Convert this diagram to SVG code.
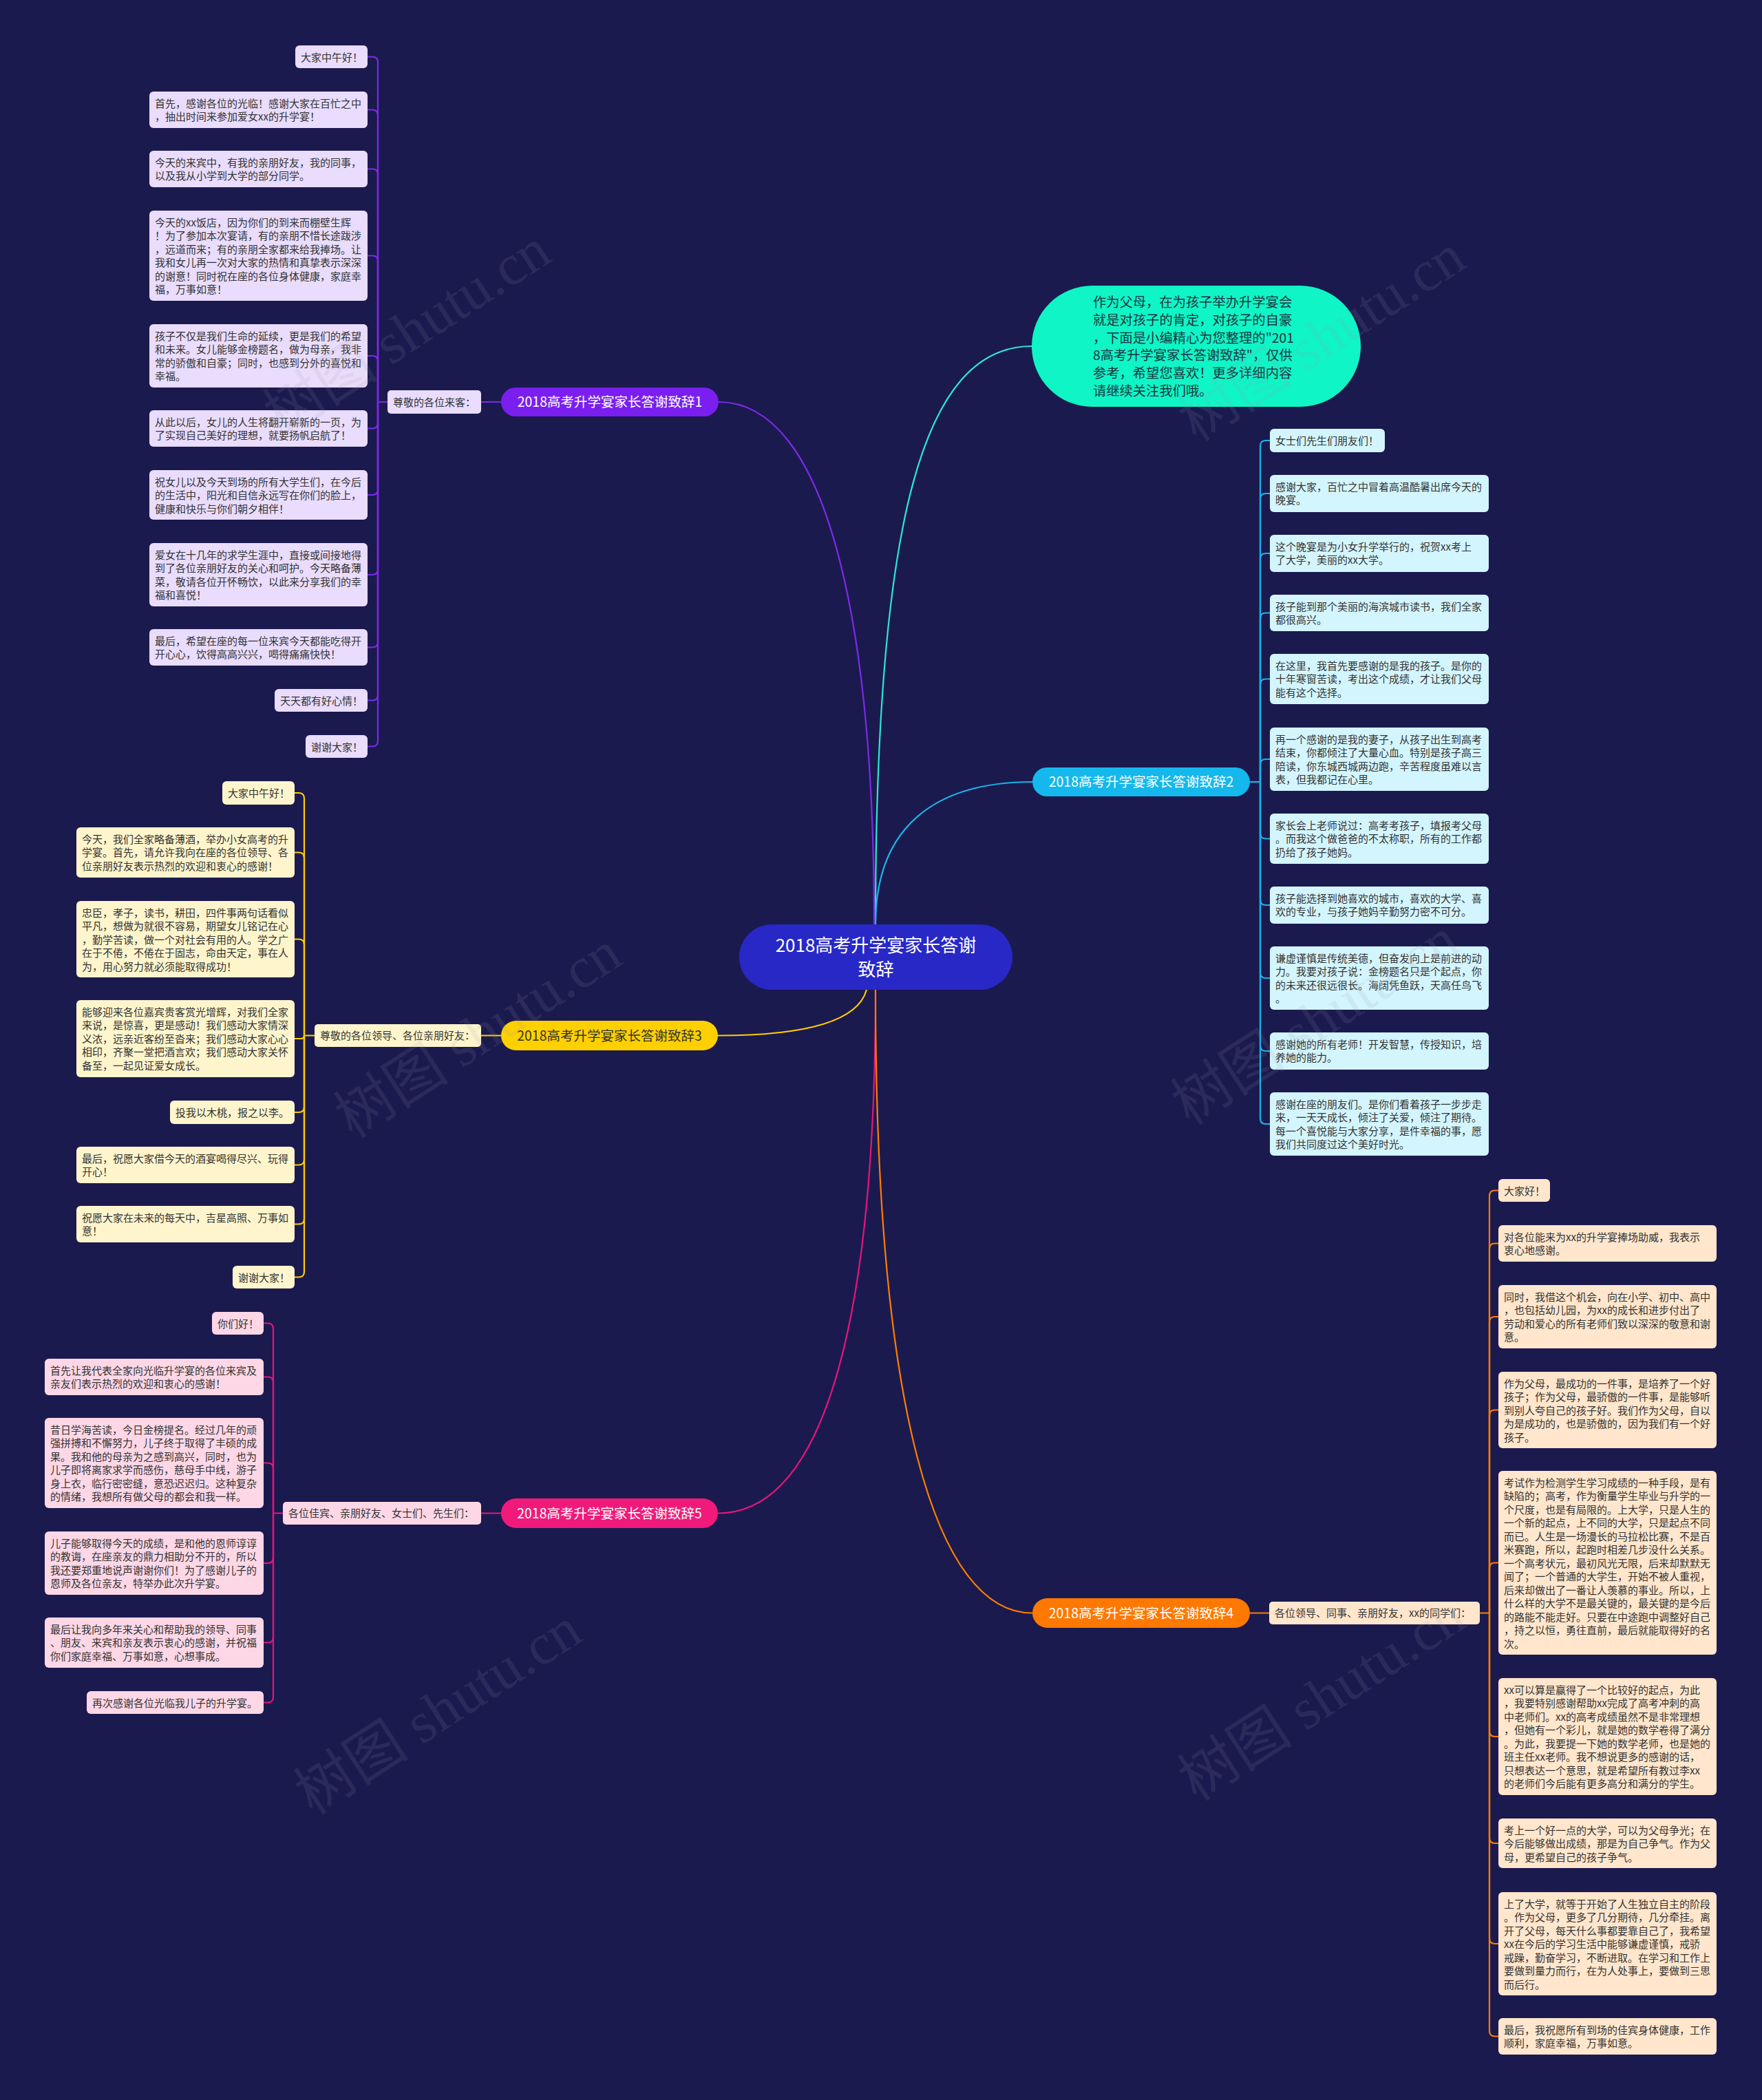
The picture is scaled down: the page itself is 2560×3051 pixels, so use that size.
<svg xmlns="http://www.w3.org/2000/svg" width="2560" height="3051" viewBox="0 0 2560 3051">
<style>
text{font-family:"Noto Sans CJK SC","Noto Sans",sans-serif}
.lt{font-size:15px;fill:#333}
.bt{font-size:19.5px;text-anchor:middle}
.c{fill:none;stroke-width:2.2}
.n1{fill:#e9dcfc}.n2{fill:#d3f5fd}.n3{fill:#fff5cc}.n4{fill:#ffe6cc}.n5{fill:#fdd7e6}
.wm{font-family:"Liberation Serif","Noto Sans CJK SC",serif;font-size:84px;fill:#9a9ab0;opacity:0.13}
</style>
<rect width="2560" height="3051" fill="#1b1a4f"/>
<g id="connectors">
<path class="c" stroke="#2ee6d6" d="M1272 1343C1272 760 1340 503 1499 503"/>
<path class="c" stroke="#1bb4e6" d="M1272 1343C1272 1200 1360 1136 1500 1136"/>
<path class="c" stroke="#7d2ae8" d="M1270 1343C1270 900 1200 584 1044 584"/>
<path class="c" stroke="#ffcc00" d="M1259 1438C1245 1490 1150 1504.5 1043 1504.5"/>
<path class="c" stroke="#e8157a" d="M1272 1438C1272 1960 1185 2198.5 1043 2198.5"/>
<path class="c" stroke="#ff7d00" d="M1272 1438C1272 2050 1360 2343.5 1500 2343.5"/>
<g stroke="#7d2ae8" class="c">
<path d="M728 584H699M563 584H549"/>
<path d="M549 584V90.5Q549 82.5 541 82.5H534"/>
<path d="M549 584V167.5Q549 159.5 541 159.5H534"/>
<path d="M549 584V253.5Q549 245.5 541 245.5H534"/>
<path d="M549 584V379.5Q549 371.5 541 371.5H534"/>
<path d="M549 584V525Q549 517 541 517H534"/>
<path d="M549 584V614.5Q549 622.5 541 622.5H534"/>
<path d="M549 584V711Q549 719 541 719H534"/>
<path d="M549 584V827Q549 835 541 835H534"/>
<path d="M549 584V932.5Q549 940.5 541 940.5H534"/>
<path d="M549 584V1009.5Q549 1017.5 541 1017.5H534"/>
<path d="M549 584V1076.5Q549 1084.5 541 1084.5H534"/>
</g>
<g stroke="#ffcc00" class="c">
<path d="M728 1504.5H699M457 1504.5H442"/>
<path d="M442 1504.5V1160Q442 1152 434 1152H428"/>
<path d="M442 1504.5V1246.5Q442 1238.5 434 1238.5H428"/>
<path d="M442 1504.5V1372.5Q442 1364.5 434 1364.5H428"/>
<path d="M442 1504.5Q442 1509 437 1509H428"/>
<path d="M442 1504.5V1608Q442 1616 434 1616H428"/>
<path d="M442 1504.5V1684.5Q442 1692.5 434 1692.5H428"/>
<path d="M442 1504.5V1770.5Q442 1778.5 434 1778.5H428"/>
<path d="M442 1504.5V1847.5Q442 1855.5 434 1855.5H428"/>
</g>
<g stroke="#e8157a" class="c">
<path d="M728 2198.5H699M411 2198.5H397"/>
<path d="M397 2198.5V1930.5Q397 1922.5 389 1922.5H383"/>
<path d="M397 2198.5V2008.5Q397 2000.5 389 2000.5H383"/>
<path d="M397 2198.5V2133.5Q397 2125.5 389 2125.5H383"/>
<path d="M397 2198.5V2263Q397 2271 389 2271H383"/>
<path d="M397 2198.5V2378.5Q397 2386.5 389 2386.5H383"/>
<path d="M397 2198.5V2465.5Q397 2473.5 389 2473.5H383"/>
</g>
<g stroke="#1bb4e6" class="c">
<path d="M1816 1136H1831"/>
<path d="M1831 1136V648Q1831 640 1839 640H1845"/>
<path d="M1831 1136V725Q1831 717 1839 717H1845"/>
<path d="M1831 1136V812Q1831 804 1839 804H1845"/>
<path d="M1831 1136V898.5Q1831 890.5 1839 890.5H1845"/>
<path d="M1831 1136V994.5Q1831 986.5 1839 986.5H1845"/>
<path d="M1831 1136V1111Q1831 1103 1839 1103H1845"/>
<path d="M1831 1136V1210.5Q1831 1218.5 1839 1218.5H1845"/>
<path d="M1831 1136V1307Q1831 1315 1839 1315H1845"/>
<path d="M1831 1136V1413Q1831 1421 1839 1421H1845"/>
<path d="M1831 1136V1519Q1831 1527 1839 1527H1845"/>
<path d="M1831 1136V1625Q1831 1633 1839 1633H1845"/>
</g>
<g stroke="#ff7d00" class="c">
<path d="M1816 2343.5H1844M2150 2343.5H2164"/>
<path d="M2164 2343.5V1737.5Q2164 1729.5 2172 1729.5H2177"/>
<path d="M2164 2343.5V1814.5Q2164 1806.5 2172 1806.5H2177"/>
<path d="M2164 2343.5V1921Q2164 1913 2172 1913H2177"/>
<path d="M2164 2343.5V2056.5Q2164 2048.5 2172 2048.5H2177"/>
<path d="M2164 2343.5V2278.5Q2164 2270.5 2172 2270.5H2177"/>
<path d="M2164 2343.5V2515Q2164 2523 2172 2523H2177"/>
<path d="M2164 2343.5V2670Q2164 2678 2172 2678H2177"/>
<path d="M2164 2343.5V2816Q2164 2824 2172 2824H2177"/>
<path d="M2164 2343.5V2950.5Q2164 2958.5 2172 2958.5H2177"/>
</g>
</g>

<g id="center"><rect x="1074" y="1343" width="397" height="95" rx="47.5" fill="#2828c6"/>
<text x="1272.5" y="1383" font-size="26" fill="#fff" text-anchor="middle">2018高考升学宴家长答谢<tspan x="1272.5" dy="35">致辞</tspan></text></g>

<g id="intro"><rect x="1499" y="415" width="478" height="176" rx="88" fill="#0ff5c6"/>
<text x="1588" y="446" font-size="19.3" fill="#1f3340"><tspan x="1588">作为父母，在为孩子举办升学宴会</tspan><tspan x="1588" dy="25.8">就是对孩子的肯定，对孩子的自豪</tspan><tspan x="1588" dy="25.8">，下面是小编精心为您整理的"201</tspan><tspan x="1588" dy="25.8">8高考升学宴家长答谢致辞"，仅供</tspan><tspan x="1588" dy="25.8">参考，希望您喜欢！更多详细内容</tspan><tspan x="1588" dy="25.8">请继续关注我们哦。</tspan></text></g>

<g id="branch1"><rect x="728" y="563" width="316" height="42" rx="21" fill="#7a1ff0"/><text class="bt" x="886" y="591" fill="#fff">2018高考升学宴家长答谢致辞1</text></g>
<g id="branch2"><rect x="1500" y="1115" width="316" height="42" rx="21" fill="#14b8ec"/><text class="bt" x="1658" y="1143" fill="#fff">2018高考升学宴家长答谢致辞2</text></g>
<g id="branch3"><rect x="728" y="1483" width="315" height="43" rx="21.5" fill="#ffd000"/><text class="bt" x="885.5" y="1511.5" fill="#333">2018高考升学宴家长答谢致辞3</text></g>
<g id="branch4"><rect x="1500" y="2322" width="316" height="43" rx="21.5" fill="#ff7800"/><text class="bt" x="1658" y="2350.5" fill="#fff">2018高考升学宴家长答谢致辞4</text></g>
<g id="branch5"><rect x="728" y="2177" width="315" height="43" rx="21.5" fill="#f01a7a"/><text class="bt" x="885.5" y="2205.5" fill="#fff">2018高考升学宴家长答谢致辞5</text></g>

<g id="sub1"><rect class="n1" x="563" y="567" width="136" height="34" rx="5"/><text class="lt" x="571" y="589.5">尊敬的各位来客：</text></g>
<g id="sub3"><rect class="n3" x="457" y="1488" width="242" height="33" rx="5"/><text class="lt" x="465" y="1510">尊敬的各位领导、各位亲朋好友：</text></g>
<g id="sub5"><rect class="n5" x="411" y="2182" width="288" height="33" rx="5"/><text class="lt" x="419" y="2204">各位佳宾、亲朋好友、女士们、先生们：</text></g>
<g id="sub4"><rect class="n4" x="1844" y="2327" width="306" height="33" rx="5"/><text class="lt" x="1852" y="2349">各位领导、同事、亲朋好友，xx的同学们：</text></g>

<g id="b1-leaves">
<g id="b1-1"><rect class="n1" x="429" y="66" width="105" height="33" rx="6"/><text class="lt" x="437" y="88.5">大家中午好！</text></g>
<g id="b1-2"><rect class="n1" x="217" y="133" width="317" height="53" rx="6"/><text class="lt" x="225" y="155.5"><tspan x="225">首先，感谢各位的光临！感谢大家在百忙之中</tspan><tspan x="225" dy="19.5">，抽出时间来参加爱女xx的升学宴！</tspan></text></g>
<g id="b1-3"><rect class="n1" x="217" y="219" width="317" height="53" rx="6"/><text class="lt" x="225" y="241.5"><tspan x="225">今天的来宾中，有我的亲朋好友，我的同事，</tspan><tspan x="225" dy="19.5">以及我从小学到大学的部分同学。</tspan></text></g>
<g id="b1-4"><rect class="n1" x="217" y="306" width="317" height="131" rx="6"/><text class="lt" x="225" y="328.5"><tspan x="225">今天的xx饭店，因为你们的到来而棚壁生辉</tspan><tspan x="225" dy="19.5">！为了参加本次宴请，有的亲朋不惜长途跋涉</tspan><tspan x="225" dy="19.5">，远道而来；有的亲朋全家都来给我捧场。让</tspan><tspan x="225" dy="19.5">我和女儿再一次对大家的热情和真挚表示深深</tspan><tspan x="225" dy="19.5">的谢意！同时祝在座的各位身体健康，家庭幸</tspan><tspan x="225" dy="19.5">福，万事如意！</tspan></text></g>
<g id="b1-5"><rect class="n1" x="217" y="471" width="317" height="92" rx="6"/><text class="lt" x="225" y="493.5"><tspan x="225">孩子不仅是我们生命的延续，更是我们的希望</tspan><tspan x="225" dy="19.5">和未来。女儿能够金榜题名，做为母亲，我非</tspan><tspan x="225" dy="19.5">常的骄傲和自豪；同时，也感到分外的喜悦和</tspan><tspan x="225" dy="19.5">幸福。</tspan></text></g>
<g id="b1-6"><rect class="n1" x="217" y="596" width="317" height="53" rx="6"/><text class="lt" x="225" y="618.5"><tspan x="225">从此以后，女儿的人生将翻开崭新的一页，为</tspan><tspan x="225" dy="19.5">了实现自己美好的理想，就要扬帆启航了！</tspan></text></g>
<g id="b1-7"><rect class="n1" x="217" y="683" width="317" height="72" rx="6"/><text class="lt" x="225" y="705.5"><tspan x="225">祝女儿以及今天到场的所有大学生们，在今后</tspan><tspan x="225" dy="19.5">的生活中，阳光和自信永远写在你们的脸上，</tspan><tspan x="225" dy="19.5">健康和快乐与你们朝夕相伴！</tspan></text></g>
<g id="b1-8"><rect class="n1" x="217" y="789" width="317" height="92" rx="6"/><text class="lt" x="225" y="811.5"><tspan x="225">爱女在十几年的求学生涯中，直接或间接地得</tspan><tspan x="225" dy="19.5">到了各位亲朋好友的关心和呵护。今天略备薄</tspan><tspan x="225" dy="19.5">菜，敬请各位开怀畅饮，以此来分享我们的幸</tspan><tspan x="225" dy="19.5">福和喜悦！</tspan></text></g>
<g id="b1-9"><rect class="n1" x="217" y="914" width="317" height="53" rx="6"/><text class="lt" x="225" y="936.5"><tspan x="225">最后，希望在座的每一位来宾今天都能吃得开</tspan><tspan x="225" dy="19.5">开心心，饮得高高兴兴，喝得痛痛快快！</tspan></text></g>
<g id="b1-10"><rect class="n1" x="399" y="1001" width="135" height="33" rx="6"/><text class="lt" x="407" y="1023.5">天天都有好心情！</text></g>
<g id="b1-11"><rect class="n1" x="444" y="1068" width="90" height="33" rx="6"/><text class="lt" x="452" y="1090.5">谢谢大家！</text></g>
</g>

<g id="b3-leaves">
<g id="b3-1"><rect class="n3" x="323" y="1135" width="105" height="34" rx="6"/><text class="lt" x="331" y="1157.5">大家中午好！</text></g>
<g id="b3-2"><rect class="n3" x="111" y="1202" width="317" height="73" rx="6"/><text class="lt" x="119" y="1224.5"><tspan x="119">今天，我们全家略备薄酒，举办小女高考的升</tspan><tspan x="119" dy="19.5">学宴。首先，请允许我向在座的各位领导、各</tspan><tspan x="119" dy="19.5">位亲朋好友表示热烈的欢迎和衷心的感谢！</tspan></text></g>
<g id="b3-3"><rect class="n3" x="111" y="1309" width="317" height="111" rx="6"/><text class="lt" x="119" y="1331.5"><tspan x="119">忠臣，孝子，读书，耕田，四件事两句话看似</tspan><tspan x="119" dy="19.5">平凡，想做为就很不容易，期望女儿铭记在心</tspan><tspan x="119" dy="19.5">，勤学苦读，做一个对社会有用的人。学之广</tspan><tspan x="119" dy="19.5">在于不倦，不倦在于固志，命由天定，事在人</tspan><tspan x="119" dy="19.5">为，用心努力就必须能取得成功！</tspan></text></g>
<g id="b3-4"><rect class="n3" x="111" y="1453" width="317" height="112" rx="6"/><text class="lt" x="119" y="1475.5"><tspan x="119">能够迎来各位嘉宾贵客赏光增辉，对我们全家</tspan><tspan x="119" dy="19.5">来说，是惊喜，更是感动！我们感动大家情深</tspan><tspan x="119" dy="19.5">义浓，远亲近客纷至沓来；我们感动大家心心</tspan><tspan x="119" dy="19.5">相印，齐聚一堂把酒言欢；我们感动大家关怀</tspan><tspan x="119" dy="19.5">备至，一起见证爱女成长。</tspan></text></g>
<g id="b3-5"><rect class="n3" x="247" y="1599" width="181" height="34" rx="6"/><text class="lt" x="255" y="1621.5">投我以木桃，报之以李。</text></g>
<g id="b3-6"><rect class="n3" x="111" y="1666" width="317" height="53" rx="6"/><text class="lt" x="119" y="1688.5"><tspan x="119">最后，祝愿大家借今天的酒宴喝得尽兴、玩得</tspan><tspan x="119" dy="19.5">开心！</tspan></text></g>
<g id="b3-7"><rect class="n3" x="111" y="1752" width="317" height="53" rx="6"/><text class="lt" x="119" y="1774.5"><tspan x="119">祝愿大家在未来的每天中，吉星高照、万事如</tspan><tspan x="119" dy="19.5">意！</tspan></text></g>
<g id="b3-8"><rect class="n3" x="338" y="1839" width="90" height="33" rx="6"/><text class="lt" x="346" y="1861.5">谢谢大家！</text></g>
</g>

<g id="b5-leaves">
<g id="b5-1"><rect class="n5" x="308" y="1906" width="75" height="33" rx="6"/><text class="lt" x="316" y="1928.5">你们好！</text></g>
<g id="b5-2"><rect class="n5" x="65" y="1974" width="318" height="53" rx="6"/><text class="lt" x="73" y="1996.5"><tspan x="73">首先让我代表全家向光临升学宴的各位来宾及</tspan><tspan x="73" dy="19.5">亲友们表示热烈的欢迎和衷心的感谢！</tspan></text></g>
<g id="b5-3"><rect class="n5" x="65" y="2060" width="318" height="131" rx="6"/><text class="lt" x="73" y="2082.5"><tspan x="73">昔日学海苦读，今日金榜提名。经过几年的顽</tspan><tspan x="73" dy="19.5">强拼搏和不懈努力，儿子终于取得了丰硕的成</tspan><tspan x="73" dy="19.5">果。我和他的母亲为之感到高兴，同时，也为</tspan><tspan x="73" dy="19.5">儿子即将离家求学而感伤，慈母手中线，游子</tspan><tspan x="73" dy="19.5">身上衣，临行密密缝，意恐迟迟归。这种复杂</tspan><tspan x="73" dy="19.5">的情绪，我想所有做父母的都会和我一样。</tspan></text></g>
<g id="b5-4"><rect class="n5" x="65" y="2225" width="318" height="92" rx="6"/><text class="lt" x="73" y="2247.5"><tspan x="73">儿子能够取得今天的成绩，是和他的恩师谆谆</tspan><tspan x="73" dy="19.5">的教诲，在座亲友的鼎力相助分不开的，所以</tspan><tspan x="73" dy="19.5">我还要郑重地说声谢谢你们！为了感谢儿子的</tspan><tspan x="73" dy="19.5">恩师及各位亲友，特举办此次升学宴。</tspan></text></g>
<g id="b5-5"><rect class="n5" x="65" y="2350" width="318" height="73" rx="6"/><text class="lt" x="73" y="2372.5"><tspan x="73">最后让我向多年来关心和帮助我的领导、同事</tspan><tspan x="73" dy="19.5">、朋友、来宾和亲友表示衷心的感谢，并祝福</tspan><tspan x="73" dy="19.5">你们家庭幸福、万事如意，心想事成。</tspan></text></g>
<g id="b5-6"><rect class="n5" x="126" y="2457" width="257" height="33" rx="6"/><text class="lt" x="134" y="2479.5">再次感谢各位光临我儿子的升学宴。</text></g>
</g>

<g id="b2-leaves">
<g id="b2-1"><rect class="n2" x="1845" y="623" width="167" height="34" rx="6"/><text class="lt" x="1853" y="645.5">女士们先生们朋友们！</text></g>
<g id="b2-2"><rect class="n2" x="1845" y="690" width="318" height="54" rx="6"/><text class="lt" x="1853" y="712.5"><tspan x="1853">感谢大家，百忙之中冒着高温酷暑出席今天的</tspan><tspan x="1853" dy="19.5">晚宴。</tspan></text></g>
<g id="b2-3"><rect class="n2" x="1845" y="777" width="318" height="54" rx="6"/><text class="lt" x="1853" y="799.5"><tspan x="1853">这个晚宴是为小女升学举行的，祝贺xx考上</tspan><tspan x="1853" dy="19.5">了大学，美丽的xx大学。</tspan></text></g>
<g id="b2-4"><rect class="n2" x="1845" y="864" width="318" height="53" rx="6"/><text class="lt" x="1853" y="886.5"><tspan x="1853">孩子能到那个美丽的海滨城市读书，我们全家</tspan><tspan x="1853" dy="19.5">都很高兴。</tspan></text></g>
<g id="b2-5"><rect class="n2" x="1845" y="950" width="318" height="73" rx="6"/><text class="lt" x="1853" y="972.5"><tspan x="1853">在这里，我首先要感谢的是我的孩子。是你的</tspan><tspan x="1853" dy="19.5">十年寒窗苦读，考出这个成绩，才让我们父母</tspan><tspan x="1853" dy="19.5">能有这个选择。</tspan></text></g>
<g id="b2-6"><rect class="n2" x="1845" y="1057" width="318" height="92" rx="6"/><text class="lt" x="1853" y="1079.5"><tspan x="1853">再一个感谢的是我的妻子，从孩子出生到高考</tspan><tspan x="1853" dy="19.5">结束，你都倾注了大量心血。特别是孩子高三</tspan><tspan x="1853" dy="19.5">陪读，你东城西城两边跑，辛苦程度虽难以言</tspan><tspan x="1853" dy="19.5">表，但我都记在心里。</tspan></text></g>
<g id="b2-7"><rect class="n2" x="1845" y="1182" width="318" height="73" rx="6"/><text class="lt" x="1853" y="1204.5"><tspan x="1853">家长会上老师说过：高考考孩子，填报考父母</tspan><tspan x="1853" dy="19.5">。而我这个做爸爸的不太称职，所有的工作都</tspan><tspan x="1853" dy="19.5">扔给了孩子她妈。</tspan></text></g>
<g id="b2-8"><rect class="n2" x="1845" y="1288" width="318" height="54" rx="6"/><text class="lt" x="1853" y="1310.5"><tspan x="1853">孩子能选择到她喜欢的城市，喜欢的大学、喜</tspan><tspan x="1853" dy="19.5">欢的专业，与孩子她妈辛勤努力密不可分。</tspan></text></g>
<g id="b2-9"><rect class="n2" x="1845" y="1375" width="318" height="92" rx="6"/><text class="lt" x="1853" y="1397.5"><tspan x="1853">谦虚谨慎是传统美德，但奋发向上是前进的动</tspan><tspan x="1853" dy="19.5">力。我要对孩子说：金榜题名只是个起点，你</tspan><tspan x="1853" dy="19.5">的未来还很远很长。海阔凭鱼跃，天高任鸟飞</tspan><tspan x="1853" dy="19.5">。</tspan></text></g>
<g id="b2-10"><rect class="n2" x="1845" y="1500" width="318" height="54" rx="6"/><text class="lt" x="1853" y="1522.5"><tspan x="1853">感谢她的所有老师！开发智慧，传授知识，培</tspan><tspan x="1853" dy="19.5">养她的能力。</tspan></text></g>
<g id="b2-11"><rect class="n2" x="1845" y="1587" width="318" height="92" rx="6"/><text class="lt" x="1853" y="1609.5"><tspan x="1853">感谢在座的朋友们。是你们看着孩子一步步走</tspan><tspan x="1853" dy="19.5">来，一天天成长，倾注了关爱，倾注了期待。</tspan><tspan x="1853" dy="19.5">每一个喜悦能与大家分享，是件幸福的事，愿</tspan><tspan x="1853" dy="19.5">我们共同度过这个美好时光。</tspan></text></g>
</g>

<g id="b4-leaves">
<g id="b4-1"><rect class="n4" x="2177" y="1713" width="75" height="33" rx="6"/><text class="lt" x="2185" y="1735.5">大家好！</text></g>
<g id="b4-2"><rect class="n4" x="2177" y="1780" width="317" height="53" rx="6"/><text class="lt" x="2185" y="1802.5"><tspan x="2185">对各位能来为xx的升学宴捧场助威，我表示</tspan><tspan x="2185" dy="19.5">衷心地感谢。</tspan></text></g>
<g id="b4-3"><rect class="n4" x="2177" y="1867" width="317" height="92" rx="6"/><text class="lt" x="2185" y="1889.5"><tspan x="2185">同时，我借这个机会，向在小学、初中、高中</tspan><tspan x="2185" dy="19.5">，也包括幼儿园，为xx的成长和进步付出了</tspan><tspan x="2185" dy="19.5">劳动和爱心的所有老师们致以深深的敬意和谢</tspan><tspan x="2185" dy="19.5">意。</tspan></text></g>
<g id="b4-4"><rect class="n4" x="2177" y="1993" width="317" height="111" rx="6"/><text class="lt" x="2185" y="2015.5"><tspan x="2185">作为父母，最成功的一件事，是培养了一个好</tspan><tspan x="2185" dy="19.5">孩子；作为父母，最骄傲的一件事，是能够听</tspan><tspan x="2185" dy="19.5">到别人夸自己的孩子好。我们作为父母，自以</tspan><tspan x="2185" dy="19.5">为是成功的，也是骄傲的，因为我们有一个好</tspan><tspan x="2185" dy="19.5">孩子。</tspan></text></g>
<g id="b4-5"><rect class="n4" x="2177" y="2137" width="317" height="267" rx="6"/><text class="lt" x="2185" y="2159.5"><tspan x="2185">考试作为检测学生学习成绩的一种手段，是有</tspan><tspan x="2185" dy="19.5">缺陷的；高考，作为衡量学生毕业与升学的一</tspan><tspan x="2185" dy="19.5">个尺度，也是有局限的。上大学，只是人生的</tspan><tspan x="2185" dy="19.5">一个新的起点，上不同的大学，只是起点不同</tspan><tspan x="2185" dy="19.5">而已。人生是一场漫长的马拉松比赛，不是百</tspan><tspan x="2185" dy="19.5">米赛跑，所以，起跑时相差几步没什么关系。</tspan><tspan x="2185" dy="19.5">一个高考状元，最初风光无限，后来却默默无</tspan><tspan x="2185" dy="19.5">闻了；一个普通的大学生，开始不被人重视，</tspan><tspan x="2185" dy="19.5">后来却做出了一番让人羡慕的事业。所以，上</tspan><tspan x="2185" dy="19.5">什么样的大学不是最关键的，最关键的是今后</tspan><tspan x="2185" dy="19.5">的路能不能走好。只要在中途跑中调整好自己</tspan><tspan x="2185" dy="19.5">，持之以恒，勇往直前，最后就能取得好的名</tspan><tspan x="2185" dy="19.5">次。</tspan></text></g>
<g id="b4-6"><rect class="n4" x="2177" y="2438" width="317" height="170" rx="6"/><text class="lt" x="2185" y="2460.5"><tspan x="2185">xx可以算是赢得了一个比较好的起点，为此</tspan><tspan x="2185" dy="19.5">，我要特别感谢帮助xx完成了高考冲刺的高</tspan><tspan x="2185" dy="19.5">中老师们。xx的高考成绩虽然不是非常理想</tspan><tspan x="2185" dy="19.5">，但她有一个彩儿，就是她的数学卷得了满分</tspan><tspan x="2185" dy="19.5">。为此，我要提一下她的数学老师，也是她的</tspan><tspan x="2185" dy="19.5">班主任xx老师。我不想说更多的感谢的话，</tspan><tspan x="2185" dy="19.5">只想表达一个意思，就是希望所有教过李xx</tspan><tspan x="2185" dy="19.5">的老师们今后能有更多高分和满分的学生。</tspan></text></g>
<g id="b4-7"><rect class="n4" x="2177" y="2642" width="317" height="72" rx="6"/><text class="lt" x="2185" y="2664.5"><tspan x="2185">考上一个好一点的大学，可以为父母争光；在</tspan><tspan x="2185" dy="19.5">今后能够做出成绩，那是为自己争气。作为父</tspan><tspan x="2185" dy="19.5">母，更希望自己的孩子争气。</tspan></text></g>
<g id="b4-8"><rect class="n4" x="2177" y="2749" width="317" height="150" rx="6"/><text class="lt" x="2185" y="2771.5"><tspan x="2185">上了大学，就等于开始了人生独立自主的阶段</tspan><tspan x="2185" dy="19.5">。作为父母，更多了几分期待，几分牵挂。离</tspan><tspan x="2185" dy="19.5">开了父母，每天什么事都要靠自己了，我希望</tspan><tspan x="2185" dy="19.5">xx在今后的学习生活中能够谦虚谨慎，戒骄</tspan><tspan x="2185" dy="19.5">戒躁，勤奋学习，不断进取。在学习和工作上</tspan><tspan x="2185" dy="19.5">要做到量力而行，在为人处事上，要做到三思</tspan><tspan x="2185" dy="19.5">而后行。</tspan></text></g>
<g id="b4-9"><rect class="n4" x="2177" y="2932" width="317" height="53" rx="6"/><text class="lt" x="2185" y="2954.5"><tspan x="2185">最后，我祝愿所有到场的佳宾身体健康，工作</tspan><tspan x="2185" dy="19.5">顺利，家庭幸福，万事如意。</tspan></text></g>
</g>

<g id="watermarks">
<text class="wm" text-anchor="middle" transform="translate(607 506) rotate(-33)">树图 shutu.cn</text>
<text class="wm" text-anchor="middle" transform="translate(1936 515) rotate(-33)">树图 shutu.cn</text>
<text class="wm" text-anchor="middle" transform="translate(710 1527) rotate(-33)">树图 shutu.cn</text>
<text class="wm" text-anchor="middle" transform="translate(1926 1508) rotate(-33)">树图 shutu.cn</text>
<text class="wm" text-anchor="middle" transform="translate(652 2510) rotate(-33)">树图 shutu.cn</text>
<text class="wm" text-anchor="middle" transform="translate(1936 2490) rotate(-33)">树图 shutu.cn</text>
</g>
</svg>
